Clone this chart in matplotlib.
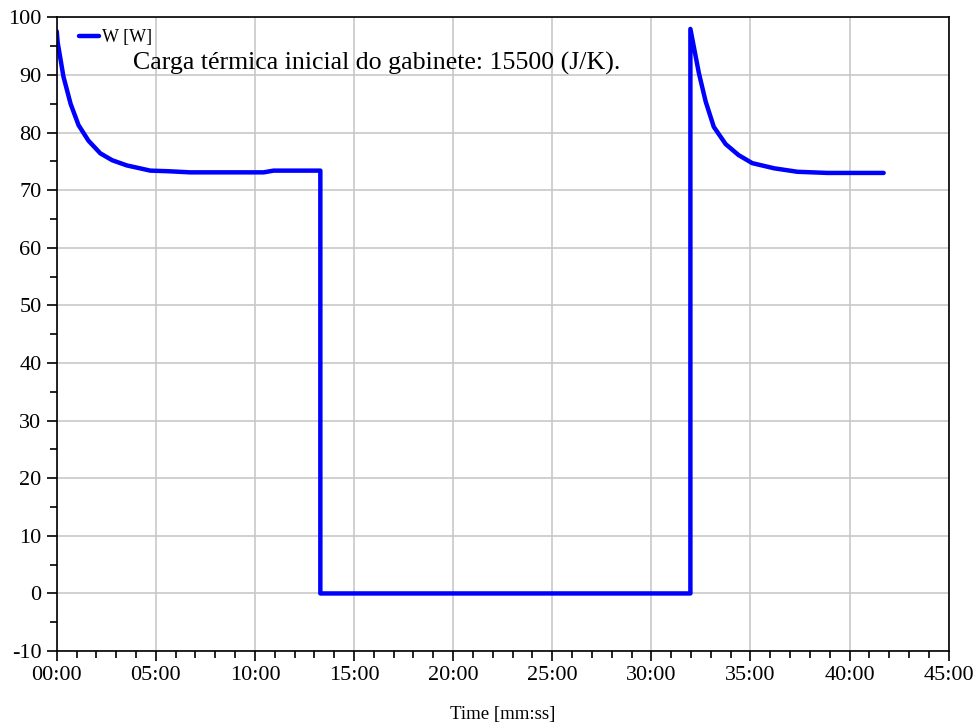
import matplotlib
matplotlib.use("Agg")
import matplotlib.pyplot as plt
from matplotlib.ticker import MultipleLocator, FuncFormatter

# time in minutes, power in W
time_min = [0.0, 0.05, 0.34, 0.7, 1.1, 1.6, 2.2, 2.8, 3.54, 4.2, 4.72, 5.6, 6.74, 8.5, 10.44, 10.94, 13.3,
            13.3, 20.0, 25.0, 31.97,
            31.97, 32.4, 32.74, 33.15, 33.75, 34.4, 35.09, 36.2, 37.37, 38.88, 41.72]
power_w = [97.6, 95.6, 89.7, 85.0, 81.3, 78.6, 76.4, 75.2, 74.3, 73.8, 73.4, 73.3, 73.1, 73.1, 73.1, 73.4, 73.4,
           0.0, 0.0, 0.0, 0.0,
           98.0, 90.3, 85.4, 81.0, 78.0, 76.1, 74.7, 73.8, 73.2, 73.0, 73.0]

plt.rcParams["font.family"] = ["Liberation Serif", "DejaVu Serif"]

fig = plt.figure(figsize=(9.78, 7.25), dpi=100)
ax = fig.add_axes([0.058, 0.102, 0.912, 0.874])

ax.plot(time_min, power_w, color="#0000ff", lw=3.2, label="W [W]",
        solid_joinstyle="round", solid_capstyle="round")

ax.set_xlim(0, 45)
ax.set_ylim(-10, 100)
ax.xaxis.set_major_locator(MultipleLocator(5))
ax.xaxis.set_minor_locator(MultipleLocator(1))
ax.yaxis.set_major_locator(MultipleLocator(10))
ax.yaxis.set_minor_locator(MultipleLocator(5))
ax.xaxis.set_major_formatter(FuncFormatter(lambda v, p: "%02d:00" % int(round(v))))
ax.yaxis.set_major_formatter(FuncFormatter(lambda v, p: "%d" % v if v >= 0 else "-%d" % abs(v)))

ax.grid(True, which="major", color="#c8c8c8", lw=1.2)
ax.set_axisbelow(True)
ax.tick_params(which="major", direction="out", length=7, width=1.2, labelsize=16, colors="black", pad=4)
ax.tick_params(which="minor", direction="out", length=5, width=1.2)
for s in ax.spines.values():
    s.set_linewidth(1.2)
    s.set_color("black")

ax.set_xlabel("Time [mm:ss]", fontsize=13.5, labelpad=15)

ax.legend(loc="center left", frameon=False, fontsize=13, handlelength=1.1, handletextpad=0.15,
          borderpad=0, borderaxespad=0, bbox_to_anchor=(0.025, 0.968))
ax.text(0.085, 0.927, "Carga térmica inicial do gabinete: 15500 (J/K).", transform=ax.transAxes,
        fontsize=18.6, va="center", ha="left")

fig.savefig("out.png", dpi=100)
